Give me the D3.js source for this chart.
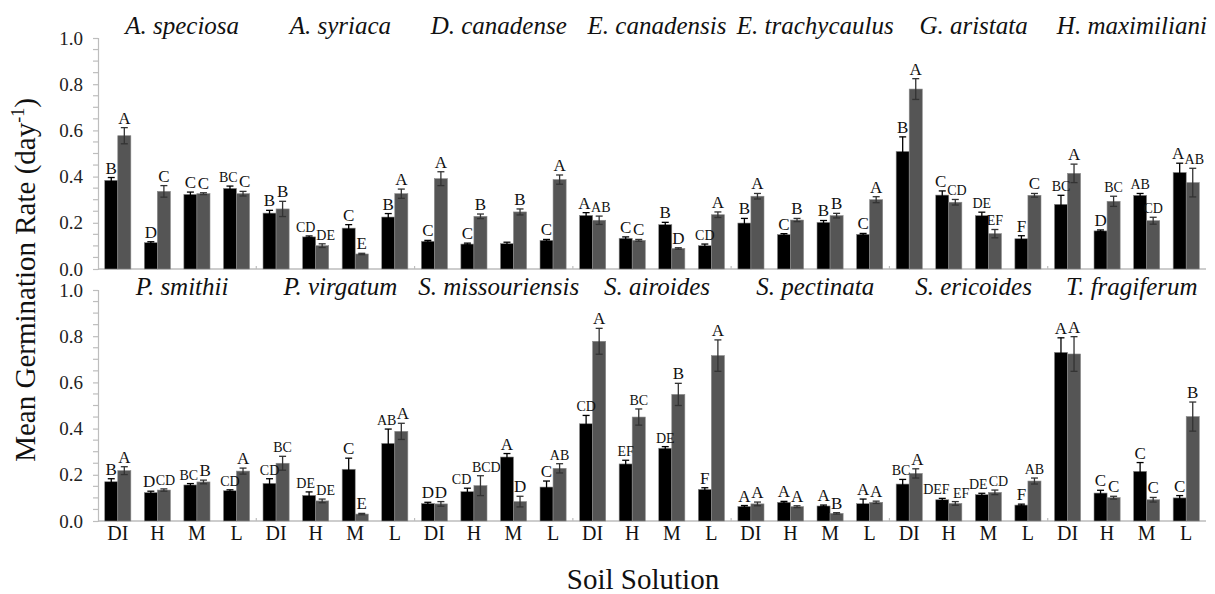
<!DOCTYPE html>
<html>
<head>
<meta charset="utf-8">
<script src="https://cdn.jsdelivr.net/npm/d3@7"></script>
</head>
<body style="margin:0">
<svg id="chart" width="1215" height="594"></svg>
<script>
// Species, one block of four soil solutions each (7 per panel)
const species = [
  "A. speciosa", "A. syriaca", "D. canadense", "E. canadensis", "E. trachycaulus", "G. aristata", "H. maximiliani",
  "P. smithii", "P. virgatum", "S. missouriensis", "S. airoides", "S. pectinata", "S. ericoides", "T. fragiferum"
];
const solutions = ["DI", "H", "M", "L"];
const yTicks = [0.0, 0.2, 0.4, 0.6, 0.8, 1.0];

// Black series: mean germination rate, standard error, letter group
const blackMean = [
  0.384, 0.114, 0.323, 0.349,   0.242, 0.139, 0.177, 0.225,
  0.120, 0.108, 0.110, 0.124,   0.232, 0.133, 0.192, 0.101,
  0.199, 0.149, 0.202, 0.150,   0.509, 0.320, 0.231, 0.131,
  0.280, 0.165, 0.319, 0.418,
  0.170, 0.123, 0.156, 0.131,   0.163, 0.111, 0.224, 0.336,
  0.076, 0.127, 0.277, 0.147,   0.421, 0.247, 0.315, 0.137,
  0.063, 0.081, 0.065, 0.075,   0.160, 0.092, 0.114, 0.069,
  0.730, 0.121, 0.215, 0.100
];
const blackErr = [
  0.012, 0.004, 0.010, 0.010,   0.012, 0.004, 0.015, 0.015,
  0.004, 0.004, 0.006, 0.004,   0.012, 0.006, 0.010, 0.007,
  0.020, 0.004, 0.008, 0.004,   0.063, 0.018, 0.015, 0.013,
  0.039, 0.004, 0.008, 0.040,
  0.013, 0.006, 0.006, 0.004,   0.020, 0.015, 0.048, 0.062,
  0.005, 0.015, 0.015, 0.026,   0.036, 0.016, 0.007, 0.007,
  0.004, 0.004, 0.004, 0.020,   0.020, 0.006, 0.006, 0.004,
  0.063, 0.012, 0.038, 0.010
];
const blackLetter = [
  "B", "D", "C", "BC",   "B", "CD", "C", "B",
  "C", "C", "", "C",     "A", "C", "B", "CD",
  "B", "C", "B", "C",    "B", "C", "DE", "F",
  "BC", "D", "AB", "A",
  "B", "D", "BC", "CD",  "CD", "DE", "C", "AB",
  "D", "CD", "A", "C",   "CD", "EF", "DE", "F",
  "A", "A", "A", "A",    "BC", "DEF", "DE", "F",
  "A", "C", "C", "C"
];

// Grey series: mean germination rate, standard error, letter group
const greyMean = [
  0.577, 0.336, 0.326, 0.326,   0.260, 0.101, 0.065, 0.326,
  0.391, 0.228, 0.247, 0.387,   0.211, 0.124, 0.089, 0.235,
  0.315, 0.212, 0.231, 0.300,   0.779, 0.289, 0.153, 0.319,
  0.414, 0.293, 0.209, 0.374,
  0.218, 0.134, 0.169, 0.216,   0.250, 0.087, 0.030, 0.388,
  0.074, 0.153, 0.084, 0.228,   0.778, 0.450, 0.548, 0.716,
  0.074, 0.062, 0.033, 0.081,   0.206, 0.076, 0.124, 0.173,
  0.723, 0.101, 0.092, 0.452
];
const greyErr = [
  0.035, 0.025, 0.004, 0.010,   0.033, 0.008, 0.003, 0.020,
  0.030, 0.010, 0.013, 0.020,   0.018, 0.004, 0.003, 0.012,
  0.012, 0.007, 0.010, 0.013,   0.045, 0.012, 0.018, 0.008,
  0.040, 0.022, 0.015, 0.062,
  0.017, 0.005, 0.008, 0.013,   0.030, 0.008, 0.003, 0.035,
  0.010, 0.043, 0.023, 0.020,   0.056, 0.035, 0.048, 0.068,
  0.008, 0.004, 0.003, 0.005,   0.020, 0.008, 0.010, 0.013,
  0.075, 0.006, 0.010, 0.063
];
const greyLetter = [
  "A", "C", "C", "C",    "B", "DE", "E", "A",
  "A", "B", "B", "A",    "AB", "C", "D", "A",
  "A", "B", "B", "A",    "A", "CD", "EF", "C",
  "A", "BC", "CD", "AB",
  "A", "CD", "B", "A",   "BC", "DE", "E", "A",
  "D", "BCD", "D", "AB", "A", "BC", "B", "A",
  "A", "A", "B", "A",    "A", "EF", "CD", "AB",
  "A", "C", "C", "B"
];

const FONT = "Liberation Serif";
const svg = d3.select("#chart");
const x0 = 98, x1 = 1206;
const perPanel = 7;
const panels = [
  { top: 38, bottom: 269, titleY: 34 },
  { top: 290, bottom: 521, titleY: 295 }
];
const axisColor = "#bdbdbd";

const groupKeys = d3.range(perPanel * solutions.length);
const xGroup = d3.scaleBand().domain(groupKeys).range([x0, x1]).paddingInner(0.34).paddingOuter(0.17);
const xSeries = d3.scaleBand().domain(["black", "grey"]).range([0, xGroup.bandwidth()]);

panels.forEach((p, pi) => {
  const y = d3.scaleLinear().domain([0, 1]).range([p.bottom, p.top]);
  const g = svg.append("g");

  // y axis with minor ticks every 0.05
  const yAxis = d3.axisLeft(y).tickValues(yTicks).tickFormat(d3.format(".1f")).tickSize(5).tickPadding(10);
  const ya = g.append("g").attr("transform", `translate(${x0},0)`).call(yAxis);
  ya.attr("font-family", null);
  ya.select(".domain").attr("stroke", axisColor).attr("stroke-width", 1.2);
  ya.selectAll(".tick line").attr("stroke", axisColor).attr("stroke-width", 1.2);
  ya.selectAll(".tick text").attr("font-size", 19).attr("fill", "#222")
    .style("font-family", FONT);
  g.append("g").selectAll("line").data(d3.range(0, 1.0001, 0.05).filter(v => Math.abs(v * 5 - Math.round(v * 5)) > 1e-6))
    .join("line")
    .attr("x1", x0 - 5).attr("x2", x0)
    .attr("y1", d => y(d)).attr("y2", d => y(d))
    .attr("stroke", axisColor).attr("stroke-width", 1.2);

  // x baseline
  g.append("line").attr("x1", x0).attr("x2", x1).attr("y1", p.bottom).attr("y2", p.bottom)
    .attr("stroke", axisColor).attr("stroke-width", 1.4);
  // small marks between species blocks
  g.append("g").selectAll("line").data(d3.range(1, perPanel)).join("line")
    .attr("x1", k => x0 + (x1 - x0) * k / perPanel).attr("x2", k => x0 + (x1 - x0) * k / perPanel)
    .attr("y1", p.bottom).attr("y2", p.bottom - 3)
    .attr("stroke", axisColor).attr("stroke-width", 1.2);

  // rows for this panel
  const rows = groupKeys.map(k => {
    const i = pi * perPanel * 4 + k;
    return {
      k, i,
      series: [
        { s: "black", v: blackMean[i], e: blackErr[i], t: blackLetter[i] },
        { s: "grey", v: greyMean[i], e: greyErr[i], t: greyLetter[i] }
      ]
    };
  });

  const groups = g.append("g").selectAll("g").data(rows).join("g")
    .attr("transform", d => `translate(${xGroup(d.k)},0)`);

  const fill = { black: "#000000", grey: "#555555" };
  const errCol = { black: "#000000", grey: "#333333" };
  const cx = d => xSeries(d.s) + xSeries.bandwidth() / 2;

  groups.selectAll("rect").data(d => d.series).join("rect")
    .attr("x", d => xSeries(d.s))
    .attr("width", xSeries.bandwidth())
    .attr("y", d => y(d.v))
    .attr("height", d => y(0) - y(d.v))
    .attr("fill", d => fill[d.s])
    .attr("stroke", "#8a8a8a").attr("stroke-width", 0.6);

  // error bars
  const eb = groups.selectAll("g.err").data(d => d.series).join("g").attr("class", "err")
    .attr("stroke", d => errCol[d.s]).attr("stroke-width", 1.3);
  eb.append("line")
    .attr("x1", cx).attr("x2", cx)
    .attr("y1", d => y(d.v - d.e)).attr("y2", d => y(d.v + d.e));
  eb.append("line")
    .attr("x1", d => cx(d) - 3.5).attr("x2", d => cx(d) + 3.5)
    .attr("y1", d => y(d.v + d.e)).attr("y2", d => y(d.v + d.e));
  eb.append("line")
    .attr("x1", d => cx(d) - 3.5).attr("x2", d => cx(d) + 3.5)
    .attr("y1", d => y(d.v - d.e)).attr("y2", d => y(d.v - d.e));

  // significance letters; neighbouring labels at similar heights are pushed apart
  const fs = t => t.length > 1 ? 14 : 17;
  const charW = t => fs(t) * 0.68 * t.length;
  rows.forEach(r => {
    const [a, b] = r.series;
    a.lx = cx(a); b.lx = cx(b);
    a.ly = y(a.v + a.e) - 4; b.ly = y(b.v + b.e) - 4;
    if (a.t && b.t && Math.abs(a.ly - b.ly) < 13) {
      const overlap = (a.lx + charW(a.t) / 2) - (b.lx - charW(b.t) / 2) + 1;
      if (overlap > 0) { a.lx -= overlap / 2; b.lx += overlap / 2; }
    }
  });
  groups.selectAll("text.letter").data(d => d.series).join("text").attr("class", "letter")
    .attr("x", d => d.lx)
    .attr("y", d => d.ly)
    .attr("text-anchor", "middle")
    .attr("font-size", d => fs(d.t))
    .style("font-family", FONT)
    .attr("fill", "#111")
    .text(d => d.t);

  // species titles
  g.append("g").selectAll("text").data(species.slice(pi * perPanel, pi * perPanel + perPanel)).join("text")
    .attr("x", (d, j) => x0 + (x1 - x0) * (j + 0.5) / perPanel + 5)
    .attr("y", p.titleY)
    .attr("text-anchor", "middle")
    .attr("font-size", 25)
    .style("font-family", FONT)
    .style("font-style", "italic")
    .attr("fill", "#111")
    .text(d => d);

  // soil solution labels on the lower panel
  if (pi === panels.length - 1) {
    g.append("g").selectAll("text").data(rows).join("text")
      .attr("x", d => xGroup(d.k) + xGroup.bandwidth() / 2)
      .attr("y", p.bottom + 19)
      .attr("text-anchor", "middle")
      .attr("font-size", 20)
      .style("font-family", FONT)
      .attr("fill", "#111")
      .text(d => solutions[d.k % solutions.length]);
  }
});

// axis titles
const yTitle = svg.append("text")
  .attr("transform", "translate(35,280) rotate(-90)")
  .attr("text-anchor", "middle")
  .attr("font-size", 29)
  .style("font-family", FONT)
  .attr("fill", "#111");
yTitle.append("tspan").text("Mean Germination Rate (day");
yTitle.append("tspan").attr("font-size", 18).attr("dy", -11).text("-1");
yTitle.append("tspan").attr("dy", 11).text(")");

svg.append("text")
  .attr("x", 643).attr("y", 589)
  .attr("text-anchor", "middle")
  .attr("font-size", 29)
  .style("font-family", FONT)
  .attr("fill", "#111")
  .text("Soil Solution");
</script>
</body>
</html>
